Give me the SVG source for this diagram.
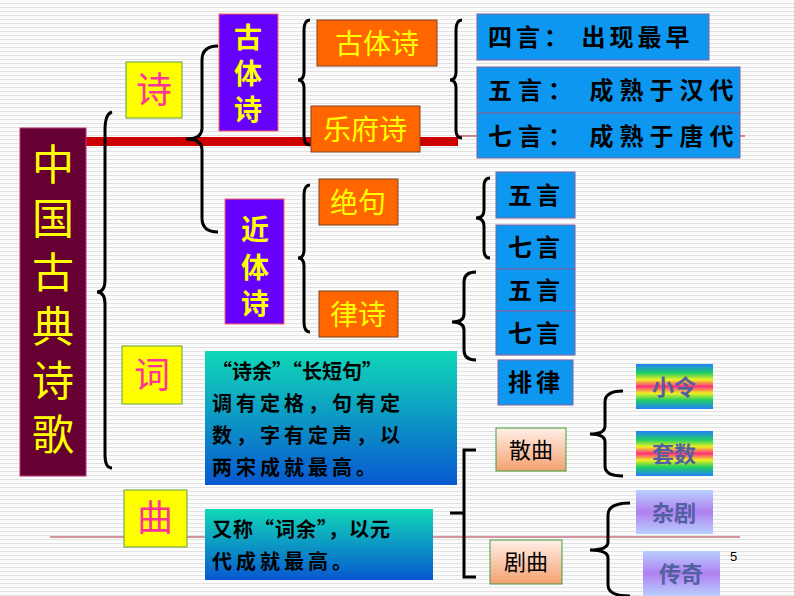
<svg xmlns="http://www.w3.org/2000/svg" width="794" height="596" viewBox="0 0 794 596">
<defs>
<pattern id="bg" width="4" height="4" patternUnits="userSpaceOnUse"><rect width="4" height="4" fill="#fbfbfb"/><rect y="3" width="4" height="1" fill="#e2e2e2"/></pattern>
<linearGradient id="tb" x1="0" y1="0" x2="0" y2="1"><stop offset="0" stop-color="#10d8b8"/><stop offset="1" stop-color="#0858d0"/></linearGradient>
<linearGradient id="rb" x1="0" y1="0" x2="0" y2="1"><stop offset="0" stop-color="#2080ff"/><stop offset=".2" stop-color="#20d060"/><stop offset=".35" stop-color="#f0f020"/><stop offset=".5" stop-color="#ff3080"/><stop offset=".65" stop-color="#f0f020"/><stop offset=".8" stop-color="#20d060"/><stop offset="1" stop-color="#2080ff"/></linearGradient>
<linearGradient id="lv" x1="0" y1="0" x2="0" y2="1"><stop offset="0" stop-color="#b8d0ff"/><stop offset=".5" stop-color="#b080f0"/><stop offset="1" stop-color="#b8d0ff"/></linearGradient>
<linearGradient id="pc" x1="0" y1="0" x2="0" y2="1"><stop offset="0" stop-color="#fff0e8"/><stop offset="1" stop-color="#f4a070"/></linearGradient>
<style>
.br{fill:none;stroke:#000;stroke-width:3}
.y{fill:#ffff00;font-family:"Noto Sans CJK SC",sans-serif}
.bk{font-family:"Noto Sans CJK SC",sans-serif;font-weight:bold;fill:#000}
.bl{fill:#0d97f0;stroke:#8060a0;stroke-width:1}
.or{fill:#ff6600;stroke:#804020;stroke-width:1}
.pu{fill:#6600ff;stroke:#ff6060;stroke-width:1}
.ye{fill:#ffff00;stroke:#60a040;stroke-width:1}
.mg{fill:#ff3399;font-family:"Noto Sans CJK SC",sans-serif;font-size:36px}
.big{fill:#ffff00;font-family:"Noto Sans CJK SC",sans-serif;font-size:42px;text-anchor:middle}
</style>
</defs>
<rect width="794" height="596" fill="url(#bg)"/>
<g id="connectors">
<rect x="86" y="137" width="372" height="9" fill="#cc0000"/>
<line x1="458" y1="136" x2="745" y2="136" stroke="#aa2020" stroke-width="1"/>
<line x1="50" y1="537" x2="740" y2="537" stroke="#aa3040" stroke-width="1"/>
<path class="br" d="M112,112 Q105,114 105,130 L105,280 Q105,292 97,292 Q105,292 105,304 L105,455 Q105,468 112,468"/>
<path class="br" d="M218,46 Q202,46 202,60 L202,128 Q202,139 186,139 Q202,139 202,150 L202,218 Q202,232 218,232"/>
<path class="br" d="M310,20 Q304,20 304,30 L304,72 Q304,80 298,80 Q304,80 304,88 L304,136 Q304,145 310,145"/>
<path class="br" d="M462,20 Q456,20 456,30 L456,72 Q456,80 450,80 Q456,80 456,88 L456,130 Q456,138 462,138"/>
<path class="br" d="M310,185 Q304,185 304,195 L304,250 Q304,258 298,258 Q304,258 304,266 L304,322 Q304,332 310,332"/>
<path class="br" d="M490,178 Q484,178 484,186 L484,210 Q484,218 476,218 Q484,218 484,226 L484,250 Q484,258 490,258"/>
<path class="br" d="M476,272 Q464,272 464,282 L464,314 Q464,322 452,322 Q464,322 464,330 L464,350 Q464,360 476,360"/>
<path class="br" d="M476,450 L464,450 L464,577 L476,577 M450,513 L464,513"/>
<path class="br" d="M623,391 Q605,391 605,402 L605,426 Q605,434 590,434 Q605,434 605,442 L605,466 Q605,476 623,476"/>
<path class="br" d="M630,503 Q608,503 608,515 L608,542 Q608,550 590,550 Q608,550 608,558 L608,585 Q608,596 630,596"/>
</g>
<g id="root"><rect x="20" y="128" width="66" height="348" fill="#660033" stroke="#c03080"/>
<text class="big" x="53" y="180">中</text><text class="big" x="53" y="234">国</text><text class="big" x="53" y="288">古</text><text class="big" x="53" y="342">典</text><text class="big" x="53" y="396">诗</text><text class="big" x="53" y="450">歌</text></g>
<g id="shi"><rect class="ye" x="126" y="62" width="56" height="56"/><text class="mg" x="154" y="103" text-anchor="middle">诗</text></g>
<g id="ci"><rect class="ye" x="122" y="346" width="60" height="58"/><text class="mg" x="152" y="388" text-anchor="middle">词</text></g>
<g id="qu"><rect class="ye" x="124" y="490" width="63" height="57"/><text class="mg" x="155" y="531" text-anchor="middle">曲</text></g>
<g id="guti"><rect class="pu" x="219" y="14" width="59" height="117"/><text class="y" font-size="28" font-weight="bold" text-anchor="middle"><tspan x="248" y="48">古</tspan><tspan x="248" y="84">体</tspan><tspan x="248" y="120">诗</tspan></text></g>
<g id="jinti"><rect class="pu" x="225" y="199" width="59" height="125"/><text class="y" font-size="28" font-weight="bold" text-anchor="middle"><tspan x="255" y="240">近</tspan><tspan x="255" y="278">体</tspan><tspan x="255" y="314">诗</tspan></text></g>
<g id="gutishi"><rect class="or" x="317" y="20" width="120" height="46"/><text class="y" font-size="28" x="377" y="54" text-anchor="middle">古体诗</text></g>
<g id="yuefu"><rect class="or" x="311" y="106" width="109" height="46"/><text class="y" font-size="28" x="365" y="140" text-anchor="middle">乐府诗</text></g>
<g id="jueju"><rect class="or" x="319" y="179" width="79" height="46"/><text class="y" font-size="28" x="358" y="213" text-anchor="middle">绝句</text></g>
<g id="lvshi"><rect class="or" x="319" y="291" width="79" height="46"/><text class="y" font-size="28" x="358" y="325" text-anchor="middle">律诗</text></g>
<g id="siyan"><rect class="bl" x="477" y="14" width="232" height="46"/><text class="bk" font-size="24" x="488" y="46" letter-spacing="4">四言： 出现最早</text></g>
<g id="wuyan1"><rect class="bl" x="477" y="67" width="263" height="46"/><text class="bk" font-size="24" x="488" y="99" letter-spacing="6">五言： 成熟于汉代</text></g>
<g id="qiyan1"><rect class="bl" x="477" y="113" width="263" height="45"/><text class="bk" font-size="24" x="488" y="145" letter-spacing="6">七言： 成熟于唐代</text></g>
<g id="wuyan2"><rect class="bl" x="496" y="172" width="79" height="46"/><text class="bk" font-size="24" x="536" y="204" text-anchor="middle" letter-spacing="4">五言</text></g>
<g id="qiyan2"><rect class="bl" x="496" y="225" width="79" height="44"/><text class="bk" font-size="24" x="536" y="256" text-anchor="middle" letter-spacing="4">七言</text></g>
<g id="wuyan3"><rect class="bl" x="496" y="269" width="79" height="42"/><text class="bk" font-size="24" x="536" y="299" text-anchor="middle" letter-spacing="4">五言</text></g>
<g id="qiyan3"><rect class="bl" x="496" y="311" width="79" height="44"/><text class="bk" font-size="24" x="536" y="342" text-anchor="middle" letter-spacing="4">七言</text></g>
<g id="pailv"><rect class="bl" x="498" y="360" width="75" height="45"/><text class="bk" font-size="24" x="536" y="391" text-anchor="middle" letter-spacing="4">排律</text></g>
<g id="cidesc"><rect x="205" y="351" width="252" height="134" fill="url(#tb)"/><text class="bk" font-size="20"><tspan x="212" y="379">“诗余”“长短句”</tspan><tspan x="212" y="411" letter-spacing="4">调有定格，句有定</tspan><tspan x="212" y="443" letter-spacing="4">数，字有定声，以</tspan><tspan x="212" y="475" letter-spacing="4">两宋成就最高。</tspan></text></g>
<g id="qudesc"><rect x="205" y="509" width="228" height="71" fill="url(#tb)"/><text class="bk" font-size="20"><tspan x="212" y="537" letter-spacing="1">又称“词余”，以元</tspan><tspan x="212" y="569" letter-spacing="4">代成就最高。</tspan></text></g>
<g id="sanqu"><rect x="496" y="428" width="70" height="43" fill="url(#pc)" stroke="#40a040"/><text x="531" y="458" font-size="22" text-anchor="middle" font-family="Noto Sans CJK SC,sans-serif">散曲</text></g>
<g id="juqu"><rect x="490" y="540" width="72" height="44" fill="url(#pc)" stroke="#40a040"/><text x="526" y="570" font-size="22" text-anchor="middle" font-family="Noto Sans CJK SC,sans-serif">剧曲</text></g>
<g id="xiaoling"><rect x="636" y="364" width="77" height="45" fill="url(#rb)"/><text x="674" y="395" font-size="22" fill="#5060a0" text-anchor="middle" font-family="Noto Sans CJK SC,sans-serif" font-weight="bold">小令</text></g>
<g id="taoshu"><rect x="636" y="431" width="77" height="45" fill="url(#rb)"/><text x="674" y="462" font-size="22" fill="#5060a0" text-anchor="middle" font-family="Noto Sans CJK SC,sans-serif" font-weight="bold">套数</text></g>
<g id="zaju"><rect x="636" y="490" width="77" height="44" fill="url(#lv)"/><text x="674" y="521" font-size="22" fill="#5060a0" text-anchor="middle" font-family="Noto Sans CJK SC,sans-serif" font-weight="bold">杂剧</text></g>
<g id="chuanqi"><rect x="643" y="551" width="77" height="45" fill="url(#lv)"/><text x="681" y="582" font-size="22" fill="#5060a0" text-anchor="middle" font-family="Noto Sans CJK SC,sans-serif" font-weight="bold">传奇</text></g>
<text x="730" y="561" font-size="13" font-family="Liberation Sans,sans-serif">5</text>
</svg>
